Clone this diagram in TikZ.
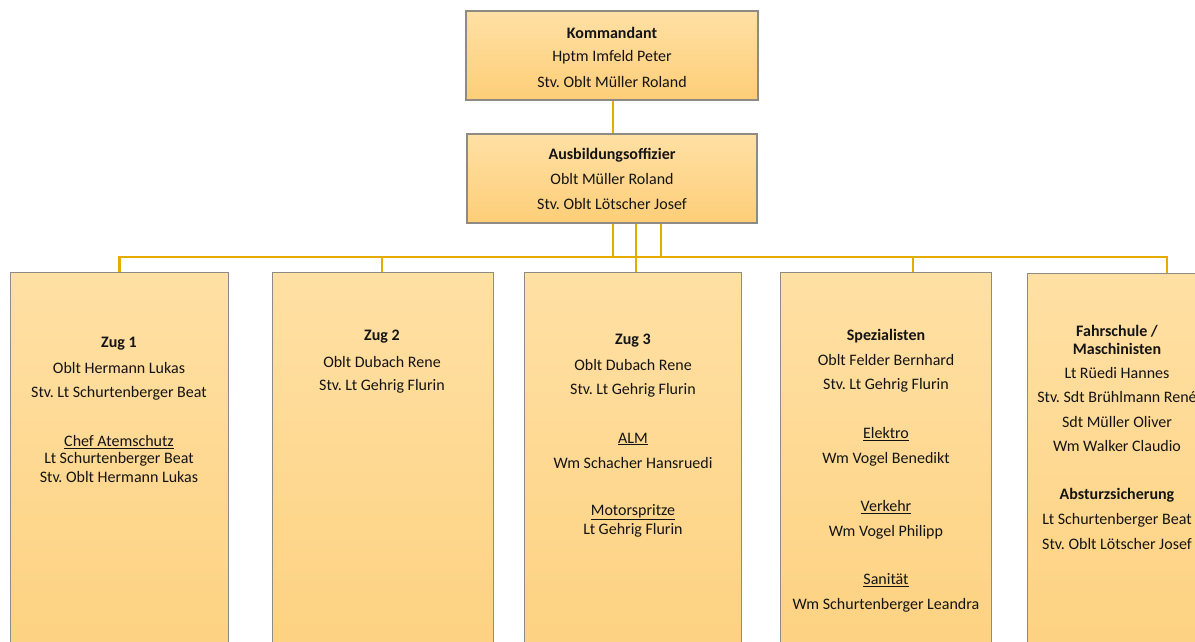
\documentclass[tikz,border=0pt]{standalone}
\usepackage{fontspec}
\setmainfont{Carlito}
\frenchspacing
\definecolor{conn}{HTML}{E4AC00}
\definecolor{boxtop}{HTML}{FFE0A4}
\definecolor{boxbot}{HTML}{FDCE78}
\definecolor{tallbot}{HTML}{FDD17F}
\definecolor{edge}{HTML}{8E8A84}
\definecolor{txt}{HTML}{141414}
\tikzset{
  box/.style={draw=edge, line width=1.3pt, rectangle, inner sep=0pt, top color=boxtop, bottom color=boxbot},
  tallbox/.style={draw=edge, line width=1.3pt, rectangle, inner sep=0pt, top color=boxtop, bottom color=tallbot},
  cline/.style={draw=conn, line width=2.6pt},
  t/.style={font=\fontsize{16}{18}\selectfont, text=txt, inner sep=0pt, anchor=center, yshift=-1pt},
  tb/.style={t, font=\fontsize{16}{18}\selectfont\bfseries},
}
\begin{document}
\begin{tikzpicture}[x=1pt,y=-1pt]
\useasboundingbox (0,0) rectangle (1195,641);
% boxes
\node[box, minimum width=292, minimum height=89] (k) at (612,55.5) {};
\node[box, minimum width=290, minimum height=89] (a) at (612,178.5) {};
\node[tallbox, minimum width=218, minimum height=400, anchor=north west] (z1) at (10,272) {};
\node[tallbox, minimum width=221, minimum height=400, anchor=north west] (z2) at (272,272) {};
\node[tallbox, minimum width=217, minimum height=400, anchor=north west] (z3) at (524,272) {};
\node[tallbox, minimum width=211, minimum height=400, anchor=north west] (sp) at (780,272) {};
\node[tallbox, minimum width=180, minimum height=400, anchor=north west] (fa) at (1027,273) {};
% connector x positions
\coordinate (xl) at (613,0);
\coordinate (xm) at (636,0);
\coordinate (xr) at (661,0);
\coordinate (xsp) at (913,0);
\coordinate (xfa) at (1167,0);
\coordinate (hy) at (0,257);
% connectors
\draw[cline] (k.south -| xl) -- (a.north -| xl);
\draw[cline] (a.south -| xl) -- (hy -| xl) -| (z1.north);
\draw[cline] (a.south -| xl) -- (hy -| xl) -| (z2.north -| 382,0);
\draw[cline] (a.south -| xm) -- (z3.north -| xm);
\draw[cline] (a.south -| xr) -- (hy -| xr) -| (sp.north -| xsp);
\draw[cline] (a.south -| xr) -- (hy -| xr) -| (fa.north -| xfa);
\draw[cline] (hy -| xl) -- (hy -| xr);
% Kommandant
\node[tb] (k1) at (612,32) {Kommandant};
\node[t] (k2) at (612,56) {Hptm Imfeld Peter};
\node[t] (k3) at (612,81) {Stv. Oblt Müller Roland};
% Ausbildungsoffizier
\node[tb] (a1) at (612,154) {Ausbildungsoffizier};
\node[t] (a2) at (612,178) {Oblt Müller Roland};
\node[t] (a3) at (612,203) {Stv. Oblt Lötscher Josef};
% Zug 1
\node[tb] (z1a) at (119,343) {Zug 1};
\node[t] (z1b) at (119,367) {Oblt Hermann Lukas};
\node[t] (z1c) at (119,392) {Stv. Lt Schurtenberger Beat};
\node[t] (z1d) at (119,441) {\underline{Chef Atemschutz}};
\node[t] (z1e) at (119,458) {Lt Schurtenberger Beat};
\node[t] (z1f) at (119,476) {Stv. Oblt Hermann Lukas};
% Zug 2
\node[tb] (z2a) at (382,336) {Zug 2};
\node[t] (z2b) at (382,361) {Oblt Dubach Rene};
\node[t] (z2c) at (382,385) {Stv. Lt Gehrig Flurin};
% Zug 3
\node[tb] (z3a) at (633,340) {Zug 3};
\node[t] (z3b) at (633,364) {Oblt Dubach Rene};
\node[t] (z3c) at (633,389) {Stv. Lt Gehrig Flurin};
\node[t] (z3d) at (633,438) {\underline{ALM}};
\node[t] (z3e) at (633,462) {Wm Schacher Hansruedi};
\node[t] (z3f) at (633,511) {\underline{Motorspritze}};
\node[t] (z3g) at (633,529) {Lt Gehrig Flurin};
% Spezialisten
\node[tb] (sp1) at (886,335) {Spezialisten};
\node[t] (sp2) at (886,359) {Oblt Felder Bernhard};
\node[t] (sp3) at (886,384) {Stv. Lt Gehrig Flurin};
\node[t] (sp4) at (886,433) {\underline{Elektro}};
\node[t] (sp5) at (886,458) {Wm Vogel Benedikt};
\node[t] (sp6) at (886,506) {\underline{Verkehr}};
\node[t] (sp7) at (886,531) {Wm Vogel Philipp};
\node[t] (sp8) at (886,579) {\underline{Sanität}};
\node[t] (sp9) at (886,604) {Wm Schurtenberger Leandra};
% Fahrschule
\node[tb] (fa1) at (1117,330) {Fahrschule /};
\node[tb] (fa2) at (1117,348) {Maschinisten};
\node[t] (fa3) at (1117,372) {Lt Rüedi Hannes};
\node[t] (fa4) at (1117,396) {Stv. Sdt Brühlmann René};
\node[t] (fa5) at (1117,421) {Sdt Müller Oliver};
\node[t] (fa6) at (1117,445) {Wm Walker Claudio};
\node[tb] (fa7) at (1117,494) {Absturzsicherung};
\node[t] (fa8) at (1117,519) {Lt Schurtenberger Beat};
\node[t] (fa9) at (1117,543) {Stv. Oblt Lötscher Josef};
\end{tikzpicture}
\end{document}
